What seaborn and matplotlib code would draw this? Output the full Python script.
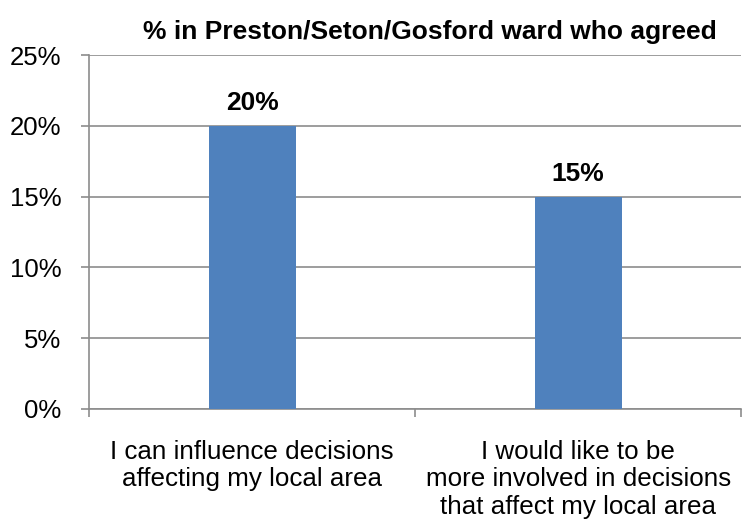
import matplotlib
matplotlib.use("Agg")
import matplotlib.pyplot as plt
import seaborn as sns
import pandas as pd
from matplotlib.ticker import FixedLocator

categories = ["I can influence decisions\naffecting my local area",
              "I would like to be\nmore involved in decisions\nthat affect my local area"]
values = [20, 15]
value_labels = ["20%", "15%"]
yticks = [0, 5, 10, 15, 20, 25]
ytick_labels = ["0%", "5%", "10%", "15%", "20%", "25%"]
title = "% in Preston/Seton/Gosford ward who agreed"

sns.set_theme(style="white")
plt.rcParams['font.family'] = ['Liberation Sans', 'DejaVu Sans']
plt.rcParams['text.color'] = 'black'
plt.rcParams['xtick.color'] = 'black'
plt.rcParams['ytick.color'] = 'black'

df = pd.DataFrame({"cat": categories, "val": values})

fig = plt.figure(figsize=(7.42, 5.25), dpi=100)
ax = fig.add_axes([0.12, 0.221, 0.879, 0.674])
sns.barplot(data=df, x="cat", y="val", color="#4F81BD", width=0.267,
            saturation=1, linewidth=0, ax=ax, zorder=3)
ax.set_xlim(-0.5, 1.5)
ax.set_ylim(0, 25)
ax.set_yticks(yticks)
ax.set_yticklabels(ytick_labels, fontsize=18.5)
ax.yaxis.grid(True, color="#8c8c8c", linewidth=1.2, zorder=0)
ax.set_axisbelow(True)
ax.set_xticks([0, 1])
ax.set_xticklabels(categories, fontsize=18.7, linespacing=1.2)
ax.tick_params(axis="x", which="major", length=0, pad=22, labelcolor="black")
ax.xaxis.set_minor_locator(FixedLocator([-0.5, 0.5, 1.5]))
ax.tick_params(axis="x", which="minor", length=6, width=1.2, color="#8c8c8c", direction="out", bottom=True)
ax.tick_params(axis="y", length=6, width=1.2, color="#8c8c8c", direction="out", left=True, pad=14,
               labelcolor="black")
ax.set_xlabel("")
ax.set_ylabel("")
for s in ["top", "right"]:
    ax.spines[s].set_visible(False)
for s in ["left", "bottom"]:
    ax.spines[s].set_color("#8c8c8c")
    ax.spines[s].set_linewidth(1.2)
for i, (v, lab) in enumerate(zip(values, value_labels)):
    ax.annotate(lab, (i, v), xytext=(0, 8), textcoords="offset points",
                ha="center", va="bottom", fontsize=19, fontweight="bold", color="black")
fig.text(0.58, 0.94, title, ha="center", va="center", fontsize=19, fontweight="bold", color="black")
fig.savefig("out.png", dpi=100)
